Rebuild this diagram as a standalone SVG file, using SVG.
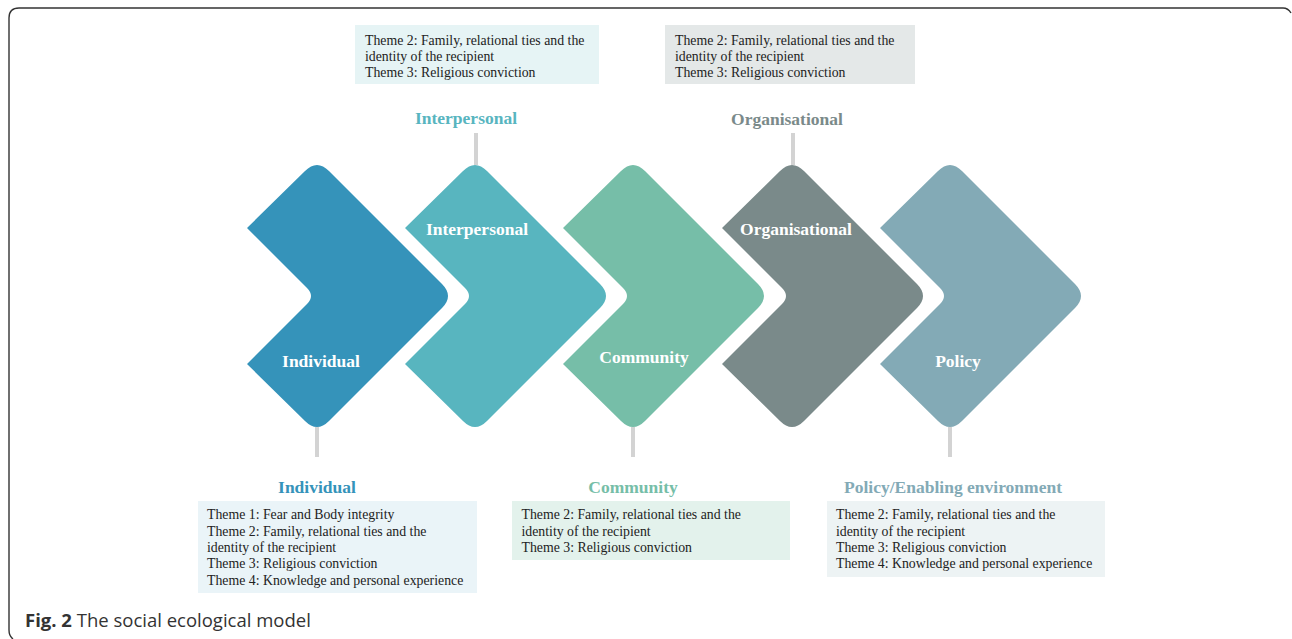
<svg xmlns="http://www.w3.org/2000/svg" xmlns:xlink="http://www.w3.org/1999/xlink" width="1292" height="639" viewBox="0 0 1292 639">
<style>
.lbl{font-family:"Liberation Serif",serif;font-weight:bold;font-size:17.5px;fill:#fff;text-anchor:middle}
.head{font-family:"Liberation Serif",serif;font-weight:bold;font-size:17.5px;text-anchor:middle}
.body{font-family:"Liberation Serif",serif;font-size:13.8px;fill:#222}
.stem{stroke:#d3d3d3;stroke-width:4}
</style>
<defs>
<path id="chev" d="M -70 228 L -12 171 Q 0 159 12 171 L 125 284 Q 137 296 125 308 L 12 421 Q 0 433 -12 421 L -70 364 L -10 304 Q -2 296 -10 288 Z"/>
</defs>
<rect width="1292" height="639" fill="#fff"/>
<path d="M 1291 13 Q 1288 8 1283 8 L 19 8 Q 9 8 9 18 L 9 630 Q 9 636 13 639" fill="none" stroke="#333" stroke-width="1.4"/>
<g id="connectors">
<line class="stem" x1="317" y1="427" x2="317" y2="457"/>
<line class="stem" x1="476" y1="133" x2="476" y2="165"/>
<line class="stem" x1="633" y1="427" x2="633" y2="457"/>
<line class="stem" x1="793" y1="133" x2="793" y2="165"/>
<line class="stem" x1="950" y1="427" x2="950" y2="457"/>
</g>
<g id="individual">
<use xlink:href="#chev" transform="translate(317,0)" fill="#3593ba"/>
<text class="lbl" x="321" y="367">Individual</text>
<text class="head" x="317" y="493" fill="#3593ba">Individual</text>
<rect x="198" y="501" width="279" height="92" fill="#eaf4f8"/>
<text class="body" x="207" y="519">Theme 1: Fear and Body integrity</text>
<text class="body" x="207" y="535.5">Theme 2: Family, relational ties and the</text>
<text class="body" x="207" y="552">identity of the recipient</text>
<text class="body" x="207" y="568">Theme 3: Religious conviction</text>
<text class="body" x="207" y="584.5">Theme 4: Knowledge and personal experience</text>
</g>
<g id="interpersonal">
<use xlink:href="#chev" transform="translate(475,0)" fill="#58b5bf"/>
<text class="lbl" x="477" y="235">Interpersonal</text>
<text class="head" x="466" y="124" fill="#58b5bf">Interpersonal</text>
<rect x="355" y="25" width="244" height="59" fill="#e6f4f5"/>
<text class="body" x="365" y="45">Theme 2: Family, relational ties and the</text>
<text class="body" x="365" y="61">identity of the recipient</text>
<text class="body" x="365" y="77">Theme 3: Religious conviction</text>
</g>
<g id="community">
<use xlink:href="#chev" transform="translate(633,0)" fill="#76bea8"/>
<text class="lbl" x="644" y="363">Community</text>
<text class="head" x="633" y="493" fill="#76bea8">Community</text>
<rect x="512" y="501" width="278" height="59" fill="#e3f2ec"/>
<text class="body" x="521.5" y="519">Theme 2: Family, relational ties and the</text>
<text class="body" x="521.5" y="535.5">identity of the recipient</text>
<text class="body" x="521.5" y="552">Theme 3: Religious conviction</text>
</g>
<g id="organisational">
<use xlink:href="#chev" transform="translate(792,0)" fill="#7a8a8a"/>
<text class="lbl" x="796" y="235">Organisational</text>
<text class="head" x="787" y="125" fill="#7a8a8a">Organisational</text>
<rect x="665" y="25" width="250" height="59" fill="#e4e8e8"/>
<text class="body" x="675" y="45">Theme 2: Family, relational ties and the</text>
<text class="body" x="675" y="61">identity of the recipient</text>
<text class="body" x="675" y="77">Theme 3: Religious conviction</text>
</g>
<g id="policy">
<use xlink:href="#chev" transform="translate(950,0)" fill="#83aab6"/>
<text class="lbl" x="958" y="367">Policy</text>
<text class="head" x="953" y="493" fill="#83aab6">Policy/Enabling environment</text>
<rect x="827" y="501" width="278" height="76" fill="#edf3f4"/>
<text class="body" x="836" y="519">Theme 2: Family, relational ties and the</text>
<text class="body" x="836" y="535.5">identity of the recipient</text>
<text class="body" x="836" y="552">Theme 3: Religious conviction</text>
<text class="body" x="836" y="568">Theme 4: Knowledge and personal experience</text>
</g>
<text x="25" y="627" font-family="'Open Sans',sans-serif" font-size="18.5" fill="#333"><tspan font-weight="bold">Fig. 2</tspan> The social ecological model</text>
</svg>
